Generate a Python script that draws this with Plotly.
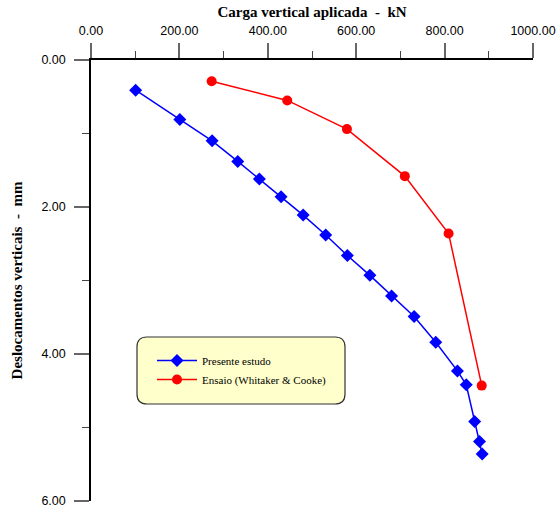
import plotly.graph_objects as go

# Data
carga_presente = [101, 201, 274, 332, 381, 430, 480, 531, 580, 631, 680, 731, 780, 829, 849, 868, 879, 885]
desloc_presente = [0.41, 0.81, 1.10, 1.38, 1.62, 1.86, 2.11, 2.38, 2.66, 2.93, 3.21, 3.49, 3.84, 4.23, 4.42, 4.92, 5.19, 5.36]

carga_ensaio = [273, 444, 579, 710, 809, 884]
desloc_ensaio = [0.29, 0.55, 0.94, 1.58, 2.36, 4.43]

nome_presente = "Presente estudo"
nome_ensaio = "Ensaio (Whitaker & Cooke)"
titulo_x = "Carga vertical aplicada\u00a0\u00a0-\u00a0\u00a0kN"
titulo_y = "Deslocamentos verticais\u00a0\u00a0-\u00a0\u00a0mm"

W, H = 560, 507
ML, MR, MT, MB = 91, 27, 60, 6
pw, ph = W - ML - MR, H - MT - MB

def px(x):
    return (x - ML) / pw

def py(y):
    return 1 - (y - MT) / ph

fig = go.Figure()
fig.add_trace(go.Scatter(
    x=carga_presente, y=desloc_presente, name=nome_presente,
    mode="lines+markers",
    line=dict(color="#0000FF", width=1.5),
    marker=dict(symbol="diamond", size=10, color="#0000FF"),
))
fig.add_trace(go.Scatter(
    x=carga_ensaio, y=desloc_ensaio, name=nome_ensaio,
    mode="lines+markers",
    line=dict(color="#FF0000", width=1.5),
    marker=dict(symbol="circle", size=10, color="#FF0000"),
))

# rounded legend box
x0, x1, y0, y1 = px(137), px(345), py(337), py(404)
rx, ry = 10 / pw, 10 / ph
path = (f"M {x0+rx},{y0} L {x1-rx},{y0} Q {x1},{y0} {x1},{y0-ry} "
        f"L {x1},{y1+ry} Q {x1},{y1} {x1-rx},{y1} "
        f"L {x0+rx},{y1} Q {x0},{y1} {x0},{y1+ry} "
        f"L {x0},{y0-ry} Q {x0},{y0} {x0+rx},{y0} Z")

fig.update_layout(
    width=W, height=H,
    margin=dict(l=ML, r=MR, t=MT, b=MB),
    paper_bgcolor="white", plot_bgcolor="white",
    font=dict(family="Liberation Sans, Arial", size=12, color="black"),
    shapes=[dict(type="path", path=path, xref="paper", yref="paper",
                 fillcolor="#FFFFCC", line=dict(color="#333333", width=1.2),
                 layer="below")],
    legend=dict(x=px(152), y=py(346), xanchor="left", yanchor="top",
                bgcolor="rgba(0,0,0,0)", borderwidth=0,
                font=dict(family="Liberation Serif, Times New Roman", size=11),
                itemwidth=40, tracegroupgap=0),
    showlegend=True,
)

fig.update_xaxes(
    side="top", range=[0, 1000], dtick=200, tick0=0, tickformat=".2f",
    automargin=False, ticklabeloverflow="allow",
    showgrid=False, zeroline=False,
    showline=True, linecolor="black", linewidth=1.5,
    ticks="outside", ticklen=15, tickcolor="#666666", tickwidth=1.5,
    ticklabelstandoff=3,
    minor=dict(dtick=100, ticks="outside", ticklen=7, tickcolor="#444444", tickwidth=1.2),
    title=dict(text=titulo_x, standoff=3,
               font=dict(family="Liberation Serif, Times New Roman", size=15, weight="bold")),
    tickfont=dict(size=12.5),
)
fig.update_yaxes(
    range=[6, 0], dtick=2, tick0=0, tickformat=".2f",
    automargin=False, ticklabeloverflow="allow",
    showgrid=False, zeroline=False,
    showline=True, linecolor="black", linewidth=1.5,
    ticks="outside", ticklen=15, tickcolor="#666666", tickwidth=1.5,
    ticklabelstandoff=6,
    minor=dict(dtick=1, ticks="outside", ticklen=7, tickcolor="#444444", tickwidth=1.2),
    title=dict(text=titulo_y, standoff=15,
               font=dict(family="Liberation Serif, Times New Roman", size=15, weight="bold")),
    tickfont=dict(size=12.5),
)

fig.write_html("out.html", config={"displayModeBar": False},
               post_script="document.body.style.margin='0';document.body.style.overflow='hidden';")
